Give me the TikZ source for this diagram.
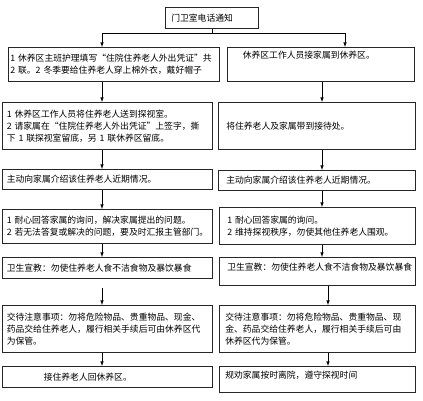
\documentclass[tikz,border=0pt]{standalone}
\usepackage{fontspec}
\setmainfont{Noto Sans CJK SC}
\usetikzlibrary{arrows.meta, positioning}
\tikzstyle{block}=[draw=black!85, line width=.6pt, rectangle, anchor=north west,
  align=left, inner xsep=4.5pt, inner ysep=0pt]
\tikzstyle{every node}=[font=\fontsize{8.8}{12}\selectfont]

\begin{document}
\begin{tikzpicture}[>=latex, x=1pt, y=-1pt]
    \useasboundingbox (0,0) rectangle (423,400);
    \node[block, inner xsep=6pt, text width=81pt, minimum height=21pt] (call) at (165,7) {门卫室电话通知};
    \node[block, inner xsep=2pt, text width=207pt, minimum height=34pt] (r1l) at (8,47)
      {1~休养区主班护理填写“住院住养老人外出凭证”共\\2~联。2~冬季要给住养老人穿上棉外衣，戴好帽子};
    \node[block, text width=178pt, text height=11pt, text depth=23pt] (r1r) at (227,47)
      {\hspace*{11pt}休养区工作人员接家属到休养区。};
    \node[block, text width=201pt, minimum height=47pt] (r2l) at (2,102)
      {1~休养区工作人员将住养老人送到探视室。\\2~请家属在“住院住养老人外出凭证”上签字，撕\\下~1~联探视室留底，另~1~联休养区留底。};
    \node[block, inner xsep=8pt, text width=181pt, minimum height=47pt] (r2r) at (218,102)
      {将住养老人及家属带到接待处。};
    \node[block, text width=201pt, minimum height=20pt] (r3l) at (2,169)
      {主动向家属介绍该住养老人近期情况。};
    \node[block, inner xsep=8pt, text width=181pt, minimum height=20pt] (r3r) at (218,170)
      {主动向家属介绍该住养老人近期情况。};
    \node[block, text width=201pt, minimum height=34pt] (r4l) at (2,209)
      {1~耐心回答家属的询问，解决家属提出的问题。\\2~若无法答复或解决的问题，要及时汇报主管部门。};
    \node[block, inner xsep=8pt, text width=180pt, minimum height=37pt] (r4r) at (219,207)
      {1~耐心回答家属的询问。\\2~维持探视秩序，勿使其他住养老人围观。};
    \node[block, text width=201pt, minimum height=21pt] (r5l) at (2,257)
      {卫生宣教：勿使住养老人食不洁食物及暴饮暴食};
    \node[block, inner xsep=4pt, text width=188pt, text height=13pt, text depth=15pt] (r5r) at (219,257)
      {\hspace*{4pt}卫生宣教：勿使住养老人食不洁食物及暴饮暴食};
    \node[block, text width=201pt, minimum height=47pt] (r6l) at (2,305)
      {交待注意事项：勿将危险物品、贵重物品、现金、\\药品交给住养老人，履行相关手续后可由休养区代\\为保管。};
    \node[block, inner xsep=6pt, text width=184pt, minimum height=47pt] (r6r) at (219,305)
      {交待注意事项：勿将危险物品、贵重物品、现\\金、药品交给住养老人，履行相关手续后可由\\休养区代为保管。};
    \node[block, text width=201pt, minimum height=21pt] (r7l) at (2,366)
      {\hspace*{37pt}接住养老人回休养区。};
    \node[block, inner xsep=6pt, text width=184pt, text height=12pt, text depth=14pt] (r7r) at (219,366)
      {规劝家属按时离院，遵守探视时间};
    \coordinate (jl) at (102,33);
    \coordinate (jr) at (345,33);
    \coordinate (rx) at (322,0);
    \coordinate (ry) at (328,0);
    \draw[line width=.6pt] (call.south -| 212,0) -- (jl -| 212,0);
    \draw[line width=.6pt] (jl) -- (jr);
    \draw[->, line width=.6pt] (jl) -- (jl |- r1l.north);
    \draw[->, line width=.6pt] (jr) -- (jr |- r1r.north);
    \draw[->, line width=.6pt] (r1l.south -| jl) -- (r2l.north -| jl);
    \draw[->, line width=.6pt] (r2l.south -| jl) -- (r3l.north -| jl);
    \draw[->, line width=.6pt] (r3l.south -| jl) -- (r4l.north -| jl);
    \draw[->, line width=.6pt] (r4l.south -| jl) -- (r5l.north -| jl);
    \draw[->, line width=.6pt, shorten <=9pt] (r5l.south -| jl) -- (r6l.north -| jl);
    \draw[->, line width=.6pt] (r6l.south -| jl) -- (r7l.north -| jl);
    \draw[->, line width=.6pt] (r1r.south -| rx) -- (r2r.north -| rx);
    \draw[->, line width=.6pt] (r2r.south -| rx) -- (r3r.north -| rx);
    \draw[->, line width=.6pt] (r3r.south -| rx) -- (r4r.north -| rx);
    \draw[->, line width=.6pt] (r4r.south -| rx) -- (r5r.north -| rx);
    \draw[->, line width=.6pt] (r5r.south -| ry) -- (r6r.north -| ry);
    \draw[->, line width=.6pt] (r6r.south -| ry) -- (r7r.north -| ry);
\end{tikzpicture}
\end{document}
